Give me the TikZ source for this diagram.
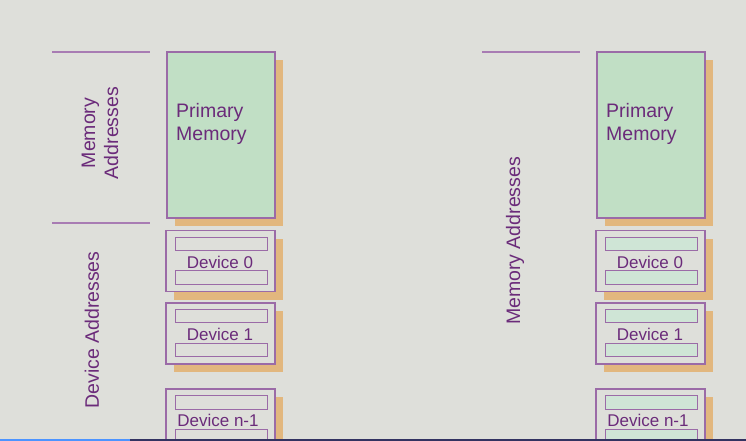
\documentclass[tikz,border=0pt]{standalone}
\usepackage{fontspec}
\setmainfont{Liberation Sans}
\usetikzlibrary{shadows}
\definecolor{bgc}{HTML}{DEDFDA}
\definecolor{memfill}{HTML}{C1DFC5}
\definecolor{barfill}{HTML}{CFE5D6}
\definecolor{shadowc}{HTML}{E2B77E}
\definecolor{borderc}{HTML}{9B6BA7}
\definecolor{linec}{HTML}{A87CB3}
\definecolor{textc}{HTML}{6B2B7A}
\tikzset{
  shad/.style={drop shadow={shadow xshift=8pt,shadow yshift=-8pt,fill=shadowc,opacity=1}},
  membox/.style={draw=borderc,line width=1.3pt,fill=memfill,minimum width=108pt,minimum height=166pt,inner sep=0pt,shad},
  devbox/.style={draw=borderc,line width=1.1pt,fill=bgc,minimum width=109pt,minimum height=61pt,inner sep=0pt,shad},
  bar/.style={draw=borderc,line width=1pt,minimum width=92pt,minimum height=13.5pt,inner sep=0pt},
  lbl/.style={text=textc,inner sep=0pt,font=\fontsize{19.5pt}{23pt}\selectfont},
  devlbl/.style={text=textc,inner sep=0pt,font=\fontsize{17pt}{20pt}\selectfont},
  sepline/.style={draw=linec,line width=1.5pt}
}
\begin{document}
\begin{tikzpicture}[x=1pt,y=-1pt]
\useasboundingbox (0,0) rectangle (746,441);
\clip (0,0) rectangle (746,441);
\fill[bgc] (0,0) rectangle (746,441);
% ---------- left diagram ----------
\coordinate (l1a) at (52,52); \coordinate (l1b) at (150,52);
\coordinate (l2a) at (52,223); \coordinate (l2b) at (150,223);
\draw[sepline] (l1a) -- (l1b);
\draw[sepline] (l2a) -- (l2b);
\node[lbl,rotate=90,align=center] (maL) at (100,133) {Memory\\Addresses};
\node[lbl,rotate=90] (daL) at (92,330) {Device Addresses};
\node[membox] (pmL) at (221,135) {};
\node[lbl,align=left,anchor=west] (pmLt) at (176,123.5) {Primary\\Memory};
\node[devbox] (d0L) at (220.5,261) {};
\node[bar] (d0La) at (221,244) {};
\node[bar] (d0Lb) at (221,277.5) {};
\node[devlbl] (d0Lt) at (220,262) {Device 0};
\node[devbox] (d1L) at (220.5,333.5) {};
\node[bar] (d1La) at (221,316) {};
\node[bar] (d1Lb) at (221,350) {};
\node[devlbl] (d1Lt) at (220,334) {Device 1};
\node[devbox] (dnL) at (220.5,419.5) {};
\node[bar] (dnLa) at (221,402.5) {};
\node[bar] (dnLb) at (221,436) {};
\node[devlbl] (dnLt) at (218,420) {Device n-1};
% ---------- right diagram ----------
\coordinate (r1a) at (482,52); \coordinate (r1b) at (580,52);
\draw[sepline] (r1a) -- (r1b);
\node[lbl,rotate=90] (maR) at (515,241) {Memory Addresses};
\node[membox] (pmR) at (651,135) {};
\node[lbl,align=left,anchor=west] (pmRt) at (606,123.5) {Primary\\Memory};
\node[devbox] (d0R) at (650.5,261) {};
\node[bar,fill=barfill] (d0Ra) at (651,244) {};
\node[bar,fill=barfill] (d0Rb) at (651,277.5) {};
\node[devlbl] (d0Rt) at (650,262) {Device 0};
\node[devbox] (d1R) at (650.5,333.5) {};
\node[bar,fill=barfill] (d1Ra) at (651,316) {};
\node[bar,fill=barfill] (d1Rb) at (651,350) {};
\node[devlbl] (d1Rt) at (650,334) {Device 1};
\node[devbox] (dnR) at (650.5,419.5) {};
\node[bar,fill=barfill] (dnRa) at (651,402.5) {};
\node[bar,fill=barfill] (dnRb) at (651,436) {};
\node[devlbl] (dnRt) at (648,420) {Device n-1};
% ---------- bottom strip ----------
\fill[black!70!blue!60!gray] (0,438.5) rectangle (746,441);
\fill[blue!60!cyan!70!white] (0,438.5) rectangle (130,441);
\end{tikzpicture}
\end{document}
